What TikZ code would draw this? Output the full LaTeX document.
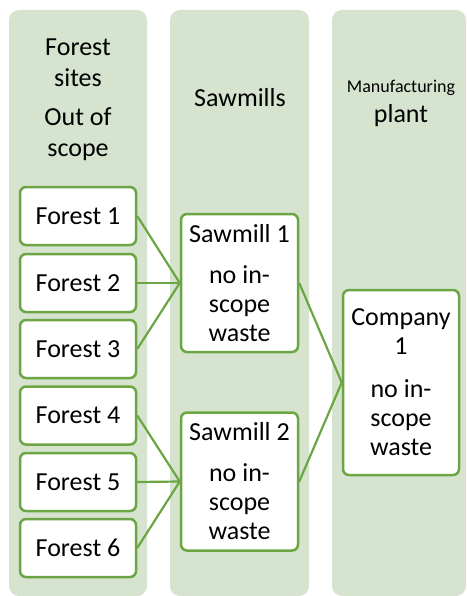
\documentclass[tikz,border=0pt]{standalone}
\usepackage{fontspec}
\setmainfont{Carlito}
\usetikzlibrary{positioning}

\definecolor{lanebg}{RGB}{214,227,207}
\definecolor{leafgreen}{RGB}{108,166,68}

\begin{document}
\begin{tikzpicture}[x=1pt,y=-1pt,
  lane/.style={fill=lanebg,rounded corners=10pt},
  head/.style={align=center,inner sep=0pt,font=\fontsize{26}{31}\selectfont},
  site/.style={draw=leafgreen,line width=2.5pt,fill=white,rounded corners=6pt,
    inner sep=0pt,align=center,font=\fontsize{26}{29}\selectfont},
  link/.style={leafgreen,line width=2.2pt}]
  \useasboundingbox (0,0) rectangle (466,596);

  % Three swim lanes.
  \fill[lane] (9,10) rectangle (147,596);
  \fill[lane] (170,10) rectangle (309,596);
  \fill[lane] (332,10) rectangle (466,596);

  \node[head] (hforest) at (78,100) {Forest\\sites\\[8pt]Out of\\scope};
  \node[head] (hsaw) at (240,98) {Sawmills};
  \node[head] (hplant) at (401,103)
    {{\fontsize{18}{20}\selectfont Manufacturing}\\[-1pt]plant};

  \node[site,minimum width=116pt,minimum height=58pt] (f1) at (78,216) {Forest 1};
  \node[site,minimum width=116pt,minimum height=58pt] (f2) at (78,283) {Forest 2};
  \node[site,minimum width=116pt,minimum height=58pt] (f3) at (78,349) {Forest 3};
  \node[site,minimum width=116pt,minimum height=58pt] (f4) at (78,415.5) {Forest 4};
  \node[site,minimum width=116pt,minimum height=58pt] (f5) at (78,482) {Forest 5};
  \node[site,minimum width=116pt,minimum height=58pt] (f6) at (78,548) {Forest 6};

  \node[site,minimum width=117pt,minimum height=138pt] (s1) at (239.5,283)
    {Sawmill 1\\[12pt]no in-\\scope\\waste};
  \node[site,minimum width=117pt,minimum height=138pt] (s2) at (239.5,481.5)
    {Sawmill 2\\[12pt]no in-\\scope\\waste};

  \node[site,minimum width=116pt,minimum height=185pt] (c1) at (401,382.5)
    {Company\\1\\[14pt]no in-\\scope\\waste};

  \draw[link] (f1.east) -- (s1.west);
  \draw[link] (f2.east) -- (s1.west);
  \draw[link] (f3.east) -- (s1.west);
  \draw[link] (f4.east) -- (s2.west);
  \draw[link] (f5.east) -- (s2.west);
  \draw[link] (f6.east) -- (s2.west);

  \draw[link] (s1.east) -- (c1.west);
  \draw[link] (s2.east) -- (c1.west);
\end{tikzpicture}
\end{document}
